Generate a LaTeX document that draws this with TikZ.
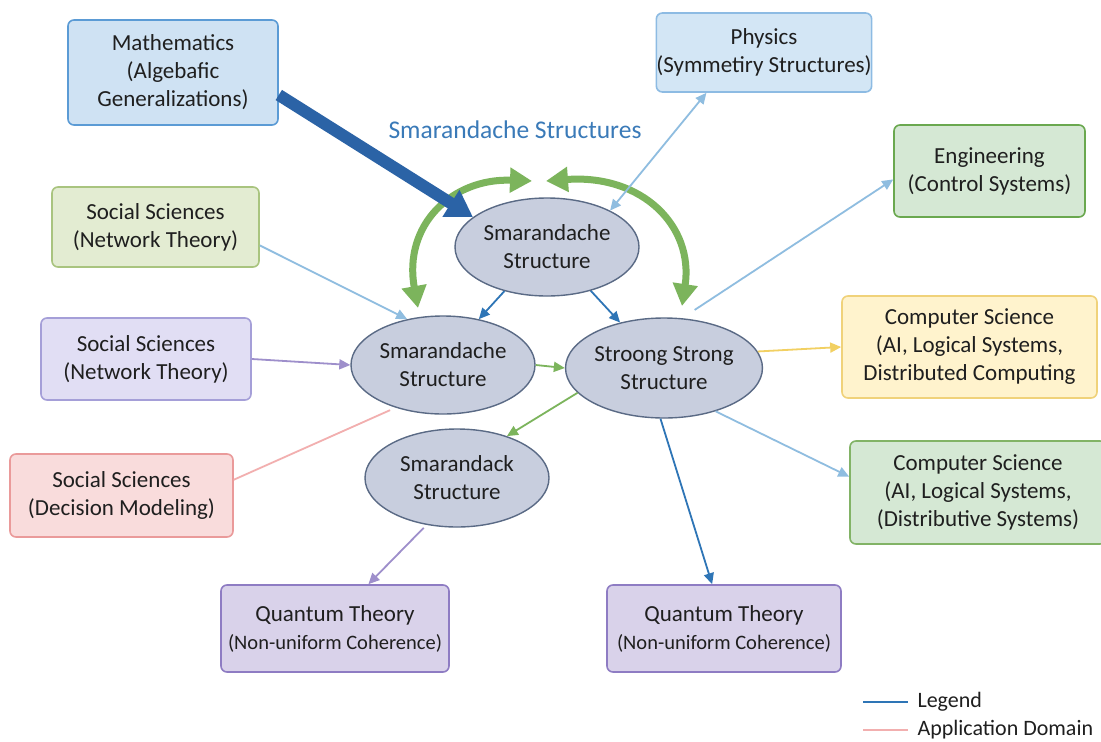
\documentclass[tikz,border=0pt]{standalone}
\usepackage{fontspec}
\setmainfont{Carlito}
\usetikzlibrary{shapes.geometric,arrows.meta}
\definecolor{txt}{HTML}{1F1F1F}
\definecolor{mathfill}{HTML}{CFE2F3}\definecolor{mathdraw}{HTML}{5B9BD5}
\definecolor{physfill}{HTML}{D3E6F5}\definecolor{physdraw}{HTML}{8DBBE3}
\definecolor{engfill}{HTML}{D5E8D4}\definecolor{engdraw}{HTML}{6AA84F}
\definecolor{sgfill}{HTML}{E3ECD2}\definecolor{sgdraw}{HTML}{A9C47F}
\definecolor{spfill}{HTML}{E1DEF4}\definecolor{spdraw}{HTML}{A59FD8}
\definecolor{srfill}{HTML}{F9DCDC}\definecolor{srdraw}{HTML}{EA9A9A}
\definecolor{cyfill}{HTML}{FFF3CD}\definecolor{cydraw}{HTML}{F0D27A}
\definecolor{cgfill}{HTML}{D5E8D4}\definecolor{cgdraw}{HTML}{82B366}
\definecolor{qfill}{HTML}{D9D2EA}\definecolor{qdraw}{HTML}{8E7CC3}
\definecolor{elfill}{HTML}{C8CEDE}\definecolor{eldraw}{HTML}{5A6A85}
\definecolor{thickblue}{HTML}{2B63A6}
\definecolor{darkblue}{HTML}{2E75B6}
\definecolor{lightblue}{HTML}{8FBDE0}
\definecolor{greenarr}{HTML}{7CB45C}
\definecolor{purplearr}{HTML}{9E8FCB}
\definecolor{pinkline}{HTML}{F2AFAF}
\definecolor{goldarr}{HTML}{F2D062}
\definecolor{titleblue}{HTML}{3A7AB8}
\begin{document}
\begin{tikzpicture}[x=1pt,y=-1pt,
  every node/.style={text=txt,align=center,font=\fontsize{23}{28}\selectfont},
  box/.style={rectangle,rounded corners=6pt,line width=1.6pt,inner sep=0pt},
  oval/.style={ellipse,fill=elfill,draw=eldraw,line width=1.4pt,minimum width=184pt,minimum height=98pt,inner sep=0pt},
  thin/.style={line width=1.8pt,-{Triangle[length=11pt,width=10pt]}},
  sub/.style={font=\fontsize{20.5}{26}\selectfont}
]
\useasboundingbox (0,0) rectangle (1101,742);
\fill[white] (0,0) rectangle (1101,742);

% boxes
\node[box,fill=mathfill,draw=mathdraw,minimum width=210pt,minimum height=105pt] (M) at (173,72.5) {Mathematics\\(Algebafic\\Generalizations)};
\node[box,fill=physfill,draw=physdraw,minimum width=212pt,minimum height=79pt] (P) at (764,52.5) {Physics\\(Symmetiry Structures)};
\node[box,fill=engfill,draw=engdraw,minimum width=191pt,minimum height=92pt] (E) at (989.5,171) {Engineering\\(Control Systems)};
\node[box,fill=sgfill,draw=sgdraw,minimum width=207pt,minimum height=80pt] (SG) at (155.5,227) {Social Sciences\\(Network Theory)};
\node[box,fill=spfill,draw=spdraw,minimum width=210pt,minimum height=82pt] (SP) at (146,359) {Social Sciences\\(Network Theory)};
\node[box,fill=srfill,draw=srdraw,minimum width=223pt,minimum height=83pt] (SR) at (121.5,495.5) {Social Sciences\\(Decision Modeling)};
\node[box,fill=cyfill,draw=cydraw,minimum width=255pt,minimum height=102pt] (CY) at (969.5,347) {Computer Science\\(AI, Logical Systems,\\Distributed Computing};
\node[box,fill=cgfill,draw=cgdraw,minimum width=256pt,minimum height=103pt] (CG) at (978,492.5) {Computer Science\\(AI, Logical Systems,\\(Distributive Systems)};
\node[box,fill=qfill,draw=qdraw,minimum width=228pt,minimum height=87pt] (QL) at (335,628.5) {Quantum Theory\\{\fontsize{20.5}{26}\selectfont(Non-uniform Coherence)}};
\node[box,fill=qfill,draw=qdraw,minimum width=234pt,minimum height=87pt] (QR) at (724,628.5) {Quantum Theory\\{\fontsize{20.5}{26}\selectfont(Non-uniform Coherence)}};

% title
\node[text=titleblue,font=\fontsize{25.5}{30}\selectfont] (title) at (515,130) {Smarandache Structures};

% ellipses
\node[oval] (T) at (547,247) {Smarandache\\Structure};
\node[oval] (L) at (443,365) {Smarandache\\Structure};
\node[oval,minimum width=188pt,minimum height=100pt] (R) at (664,368) {Stroong Strong\\Structure};
\node[oval] (B) at (457,478) {Smarandack\\Structure};

% green curved arrows
\coordinate (gl1) at (418,308);
\coordinate (gl2) at (532,181);
\coordinate (gr1) at (546,181);
\coordinate (gr2) at (682,306);
\draw[greenarr,line width=7pt,{Triangle[length=22pt,width=24pt]}-{Triangle[length=22pt,width=24pt]}]
  (gl1) .. controls (403,225) and (452,178) .. (gl2);
\draw[greenarr,line width=7pt,{Triangle[length=22pt,width=24pt]}-{Triangle[length=22pt,width=24pt]}]
  (gr1) .. controls (642,174) and (694,226) .. (gr2);

% thick math arrow
\draw[thickblue,line width=12pt,-{Triangle[length=26pt,width=30pt]}] (M.-12) -- (T.158);

% thin connectors
\draw[lightblue,line width=1.8pt,{Triangle[length=11pt,width=10pt]}-{Triangle[length=11pt,width=10pt]}] (T.30) -- (P.215);
\draw[lightblue,thin,shorten <=15pt] (R.70) -- (E.185);
\draw[darkblue,thin] (T.226) -- (L.52);
\draw[darkblue,thin] (T.315) -- (R.134);
\draw[greenarr,thin] (L.east) -- (R.west);
\draw[greenarr,thin] (R.196) -- (B.40);
\draw[lightblue,thin] (SG.-10) -- (L.128);
\draw[purplearr,thin] (SP.east) -- (L.180);
\draw[pinkline,line width=1.8pt,shorten >=6pt] (SR.8) -- (L.222);
\draw[purplearr,thin,shorten <=4pt] (B.237) -- (QL.53);
\draw[darkblue,thin] (R.266) -- (QR.105);
\draw[lightblue,thin] (R.-40) -- (CG.173);
\draw[goldarr,thin] (R.10) -- (CY.west);

% legend
\node[anchor=west,font=\fontsize{22}{26}\selectfont] (lg1) at (914,702) {Legend};
\node[anchor=west,font=\fontsize{22}{26}\selectfont] (lg2) at (914,730) {Application Domain};
\coordinate (lgs1) at (863,702);
\coordinate (lgs2) at (863,730);
\draw[darkblue,line width=2.5pt,shorten >=6pt] (lgs1) -- (lg1.west);
\draw[pinkline,line width=2.5pt,shorten >=6pt] (lgs2) -- (lg2.west);
\end{tikzpicture}
\end{document}
